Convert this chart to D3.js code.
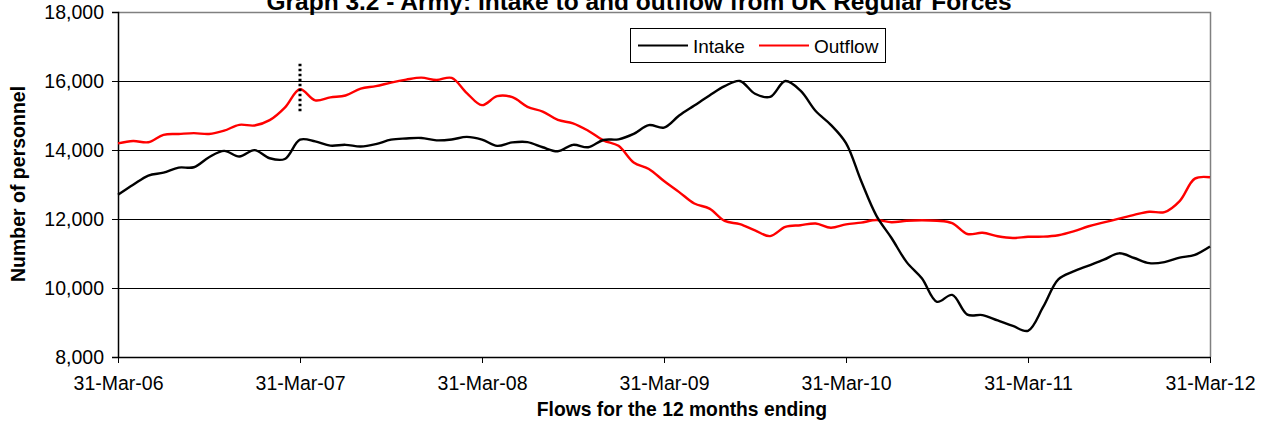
<!DOCTYPE html>
<html><head><meta charset="utf-8">
<script src="https://cdn.jsdelivr.net/npm/d3@7"></script>
<style>body{margin:0;background:#fff;}svg{display:block;font-family:Arial,"Liberation Sans",sans-serif;}</style>
</head><body><svg id="c" width="1262" height="425"></svg>
<script>
const tickLabels = ["31-Mar-06","31-Mar-07","31-Mar-08","31-Mar-09","31-Mar-10","31-Mar-11","31-Mar-12"];
const yTicks = [8000,10000,12000,14000,16000,18000];
// monthly values, 12 months ending 31-Mar-06 ... 31-Mar-12
const intake = [12700,12990,13260,13345,13490,13500,13790,13975,13810,13995,13760,13740,
 14300,14250,14126,14150,14100,14170,14300,14335,14348,14280,14305,14380,
 14300,14120,14220,14230,14080,13965,14150,14080,14290,14310,14465,14720,
 14650,15000,15290,15580,15850,16000,15630,15540,16000,15720,15130,14730,
 14200,13100,12100,11450,10750,10280,9600,9800,9230,9215,9060,8900,
 8760,9450,10250,10480,10650,10820,11005,10870,10720,10750,10880,10960,11200];
const outflow = [14190,14260,14225,14440,14464,14490,14464,14560,14730,14710,14865,15230,
 15760,15440,15527,15580,15780,15850,15955,16040,16097,16030,16090,15650,
 15300,15560,15530,15250,15115,14870,14775,14560,14280,14120,13640,13450,
 13100,12780,12450,12300,11945,11850,11670,11505,11770,11820,11870,11745,
 11845,11895,11970,11905,11950,11965,11950,11880,11565,11600,11500,11450,
 11485,11488,11530,11640,11790,11900,12010,12120,12210,12200,12520,13170,13210];
const markerMonth = 12;

const FF = "Arial,'Liberation Sans',sans-serif";
const svg = d3.select("#c");
const L=118,R=1210,T=12,B=357;
const x = d3.scaleLinear().domain([0,72]).range([L,R]);
const y = d3.scaleLinear().domain([8000,18000]).range([B,T]);

// grid
svg.append("g").selectAll("line").data(yTicks.slice(1,-1)).join("line")
 .attr("x1",L).attr("x2",R).attr("y1",d=>Math.round(y(d))+0.5).attr("y2",d=>Math.round(y(d))+0.5)
 .attr("stroke","#000").attr("stroke-width",1);
// plot border top/right
svg.append("path").attr("d",`M${L},${T+0.5}H${R+0.5}V${B}`).attr("fill","none").attr("stroke","#808080").attr("stroke-width",1.5);

const yAxis = d3.axisLeft(y).tickValues(yTicks).tickSize(6).tickPadding(8).tickFormat(d3.format(","));
svg.append("g").attr("transform",`translate(${L},0)`).call(yAxis)
 .call(g=>{g.attr("font-family",FF);
   g.select(".domain").attr("stroke","#000").attr("stroke-width",1.5);
   g.selectAll(".tick line").attr("stroke","#000");
   g.selectAll("text").attr("font-size",19.5).attr("fill","#000");});
const xAxis = d3.axisBottom(x).tickValues(d3.range(0,73,12)).tickSize(6).tickFormat((d,i)=>tickLabels[i]).tickSizeOuter(0);
svg.append("g").attr("transform",`translate(0,${B})`).call(xAxis)
 .call(g=>{g.attr("font-family",FF);
   g.select(".domain").attr("stroke","#000").attr("stroke-width",1.5);
   g.selectAll(".tick line").attr("stroke","#000");
   g.selectAll("text").attr("font-size",19.5).attr("fill","#000").attr("dy",24);});

const line = d3.line().x((d,i)=>x(i)).y(d=>y(d)).curve(d3.curveCatmullRom.alpha(0.5));
svg.append("path").datum(outflow).attr("d",line).attr("fill","none").attr("stroke","#ff0000").attr("stroke-width",2.4);
svg.append("path").datum(intake).attr("d",line).attr("fill","none").attr("stroke","#000").attr("stroke-width",2.4);

// dotted marker
svg.append("line").attr("x1",x(markerMonth)).attr("x2",x(markerMonth)).attr("y1",y(16500)).attr("y2",y(15100))
 .attr("stroke","#000").attr("stroke-width",3).attr("stroke-dasharray","2.5,2.5");

// title
svg.append("text").attr("x",639).attr("y",10).attr("text-anchor","middle").attr("font-weight","bold").attr("font-size",24.5)
 .text("Graph 3.2 - Army: Intake to and outflow from UK Regular Forces");
// axis titles
svg.append("text").attr("x",682).attr("y",416).attr("text-anchor","middle").attr("font-weight","bold").attr("font-size",19.3)
 .text("Flows for the 12 months ending");
svg.append("text").attr("transform","translate(25,184) rotate(-90)").attr("text-anchor","middle").attr("font-weight","bold").attr("font-size",19.5)
 .text("Number of personnel");

// legend
const lg = svg.append("g");
lg.append("rect").attr("x",630.5).attr("y",28.5).attr("width",255).attr("height",34).attr("fill","#fff").attr("stroke","#000").attr("stroke-width",1);
const items=[["Intake","#000",638],["Outflow","#ff0000",759]];
items.forEach(([n,c,x0])=>{
 lg.append("line").attr("x1",x0).attr("x2",x0+50).attr("y1",45.5).attr("y2",45.5).attr("stroke",c).attr("stroke-width",2);
 lg.append("text").attr("x",x0+55).attr("y",52.5).attr("font-size",19).text(n);
});
</script></body></html>
